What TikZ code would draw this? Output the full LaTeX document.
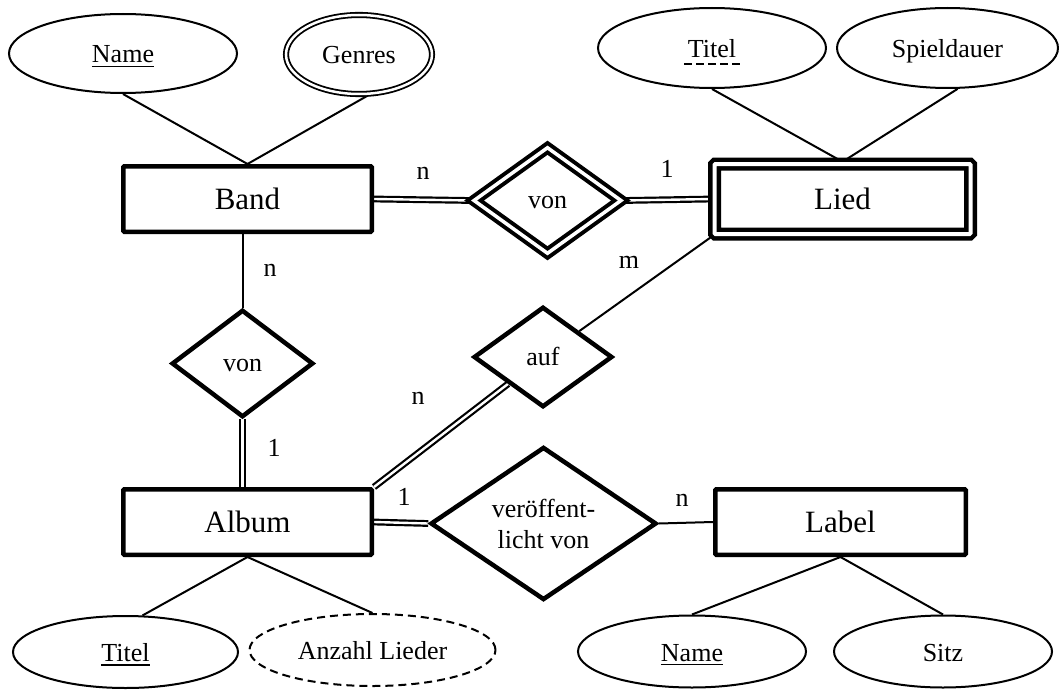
\documentclass[tikz,border=0pt]{standalone}
\usepackage{fontspec}
\setmainfont{Liberation Serif}
\usetikzlibrary{shapes.geometric, backgrounds}
\newcommand\keyul[1]{\setbox0\hbox{#1}\leavevmode\rlap{\copy0}\smash{\rule[-0.16em]{\wd0}{1.5pt}}}
\newcommand\partkeyul[1]{\setbox0\hbox{#1}\leavevmode\rlap{\copy0}\hbox to\wd0{\hss\smash{\hbox to 60pt{\xleaders\hbox{\kern2pt\rule[-0.28em]{8pt}{1.5pt}\kern2pt}\hfill}}\hss}}
\newcommand\sm{\fontsize{26}{31}\selectfont}

\begin{document}
\begin{tikzpicture}[x=1pt, y=-1pt,
  entity/.style={draw, fill=white, line width=4.5pt, rounded corners=1pt, inner sep=0pt, minimum width=248.5pt, minimum height=65.5pt, font=\fontsize{31}{36}\selectfont},
  weakentity/.style={entity, double, line width=4.5pt, double distance=4pt, minimum width=256pt, minimum height=70pt},
  rel/.style={draw, fill=white, diamond, line width=4.5pt, inner sep=0pt, font=\sm, align=center},
  relword/.style={rel, text height=16.6pt, text depth=0pt},
  idrel/.style={relword, double, line width=4pt, double distance=3.5pt},
  attr/.style={draw, fill=white, ellipse, line width=2pt, inner sep=0pt, font=\sm, text height=19pt, text depth=0pt},
  multi/.style={attr, double, line width=1.8pt, double distance=2.5pt},
  derived/.style={attr, dashed, dash pattern=on 8pt off 5pt},
  conn/.style={line width=2pt},
  total/.style={double, line width=2.2pt, double distance=2.4pt},
  card/.style={font=\sm, inner sep=0pt}]
\useasboundingbox (0,0) rectangle (1059,690);

\node[attr, minimum width=228pt, minimum height=79pt] (nameA) at (123,53.5) {\keyul{Name}};
\node[multi, minimum width=146pt, minimum height=79pt] (genres) at (359,54.5) {Genres};
\node[attr, minimum width=228pt, minimum height=80pt] (titelA) at (712,48) {\partkeyul{Titel}};
\node[attr, minimum width=221pt, minimum height=80pt] (spiel) at (947.5,48) {Spieldauer};

\node[entity] (band) at (247.5,199) {Band};
\node[idrel, minimum width=148.6pt, minimum height=107.2pt] (vonA) at (547.5,200.5) {von};
\node[weakentity] (lied) at (842.5,199) {Lied};

\node[relword, minimum width=141.6pt, minimum height=107.4pt] (vonB) at (242.5,363.5) {von};
\node[relword, minimum width=138.8pt, minimum height=100.4pt] (auf) at (543,357) {auf};

\node[entity] (album) at (247.5,522) {Album};
\node[rel, minimum width=226pt, minimum height=118pt] (ver) at (543.5,523.5) {veröffent-\\licht von};
\node[entity, minimum width=250.5pt] (label) at (840.5,522) {Label};

\node[attr, minimum width=225pt, minimum height=72pt] (titelB) at (125.5,652) {\keyul{Titel}};
\node[derived, minimum width=246pt, minimum height=72pt] (anzahl) at (372.5,650) {Anzahl Lieder};
\node[attr, minimum width=228pt, minimum height=72pt] (nameB) at (692,651.5) {\keyul{Name}};
\node[attr, minimum width=218pt, minimum height=72pt] (sitz) at (943,651.5) {Sitz};

\node[card] (cardA) at (423,173) {n};
\node[card] (cardB) at (667,169) {1};
\node[card] (cardC) at (629,262) {m};
\node[card] (cardD) at (270,270) {n};
\node[card] (cardE) at (274,448) {1};
\node[card] (cardF) at (418,398) {n};
\node[card] (cardG) at (404,497) {1};
\node[card] (cardH) at (682,500) {n};

\begin{scope}[on background layer]
\draw[conn] (nameA.south) -- (band.north);
\draw[conn] (genres.-75) -- (band.north);
\draw[conn] (titelA.south) -- (lied.north);
\draw[conn] (spiel.-76) -- (lied.north);
\draw[total] (band.east) -- (vonA.west);
\draw[total] (vonA.east) -- (lied.west);
\draw[conn] (vonB.north |- band.south) -- (vonB.north);
\draw[total] (vonB.south) -- (vonB.south |- album.north);
\draw[conn] (lied.south west) -- (auf);
\draw[total] (album.north east) -- (auf);
\draw[total] (album.east) -- (ver.west);
\draw[conn] (ver.east) -- (label.west);
\draw[conn] (album.south) -- (titelB.65);
\draw[conn] (album.south) -- (anzahl.north);
\draw[conn] (label.south) -- (nameB.north);
\draw[conn] (label.south) -- (sitz.north);
\end{scope}
\end{tikzpicture}
\end{document}
